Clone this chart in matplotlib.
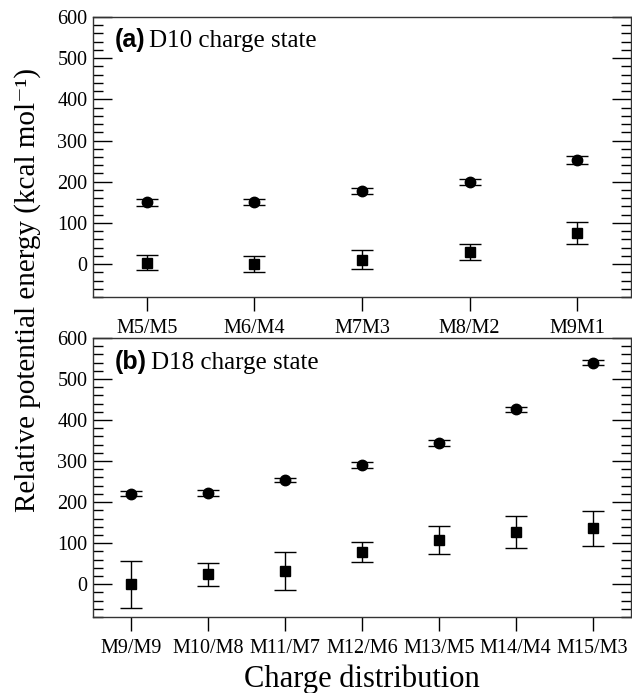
import matplotlib
matplotlib.use("Agg")
import matplotlib.pyplot as plt
from matplotlib.ticker import MultipleLocator

# Panel (a): D10 charge state
cats_a = ["M5/M5", "M6/M4", "M7M3", "M8/M2", "M9M1"]
circ_a = [150, 150, 177, 199, 253]
circ_a_err = [9, 7, 7, 7, 9]
sq_a = [3, 0, 10, 29, 76]
sq_a_err = [18, 20, 23, 20, 27]

# Panel (b): D18 charge state
cats_b = ["M9/M9", "M10/M8", "M11/M7", "M12/M6", "M13/M5", "M14/M4", "M15/M3"]
circ_b = [221, 222, 253, 290, 344, 426, 540]
circ_b_err = [7, 7, 5, 7, 7, 6, 7]
sq_b = [0, 24, 32, 78, 107, 127, 136]
sq_b_err = [57, 28, 47, 25, 34, 38, 43]

plt.rcParams['font.family'] = ['Liberation Serif', 'DejaVu Serif']

fig = plt.figure(figsize=(6.32, 6.93), dpi=100)
ax_a = fig.add_axes([93/632, 1-297/693, (631-93)/632, 280/693])
ax_b = fig.add_axes([93/632, 1-617/693, (631-93)/632, 279/693])

def draw(ax, cats, circ, circ_err, sq, sq_err, bold, rest, ty):
    x = list(range(len(cats)))
    ax.errorbar(x, circ, yerr=circ_err, fmt='o', color='black', ms=7.5,
                capsize=8, elinewidth=1.0, capthick=1.0)
    ax.errorbar(x, sq, yerr=sq_err, fmt='s', color='black', ms=6.5,
                capsize=8, elinewidth=1.0, capthick=1.0)
    ax.set_xlim(-0.5, len(cats) - 0.5)
    ax.set_ylim(-80, 600)
    ax.set_xticks(x)
    ax.set_xticklabels(cats, fontsize=14.5)
    ax.yaxis.set_major_locator(MultipleLocator(100))
    ax.yaxis.set_minor_locator(MultipleLocator(20))
    ax.tick_params(axis='y', which='major', direction='in', length=14, width=1.0,
                   left=True, right=True, labelsize=14.5, pad=4)
    ax.tick_params(axis='y', which='minor', direction='in', length=7, width=1.0,
                   left=True, right=True)
    ax.tick_params(axis='x', which='major', direction='out', length=10, width=1.0,
                   top=False, pad=6)
    ax.tick_params(axis='x', which='minor', bottom=False, top=False)
    for s in ax.spines.values():
        s.set_linewidth(1.0)
        s.set_color('#333333')
    t = ax.text(0.04, ty, bold, transform=ax.transAxes, fontsize=18,
                fontweight='bold', family=['Liberation Sans', 'DejaVu Sans'],
                va='baseline', ha='left')
    fig.canvas.draw()
    bb = t.get_window_extent()
    inv = ax.transAxes.inverted()
    x1 = inv.transform((bb.x1, bb.y0))[0]
    ax.text(x1 + 0.008, ty, rest, transform=ax.transAxes, fontsize=18,
            va='baseline', ha='left')

draw(ax_a, cats_a, circ_a, circ_a_err, sq_a, sq_a_err, "(a)", "D10 charge state", 0.893)
draw(ax_b, cats_b, circ_b, circ_b_err, sq_b, sq_b_err, "(b)", "D18 charge state", 0.889)

fig.text(0.044, 1-290/693, "Relative potential energy (kcal mol\u207b\u00b9)",
         rotation=90, fontsize=21, va='center', ha='center')
fig.text((93+631)/2/632, 1-687/693, "Charge distribution", fontsize=22,
         va='baseline', ha='center')

fig.savefig("out.png", dpi=100)
